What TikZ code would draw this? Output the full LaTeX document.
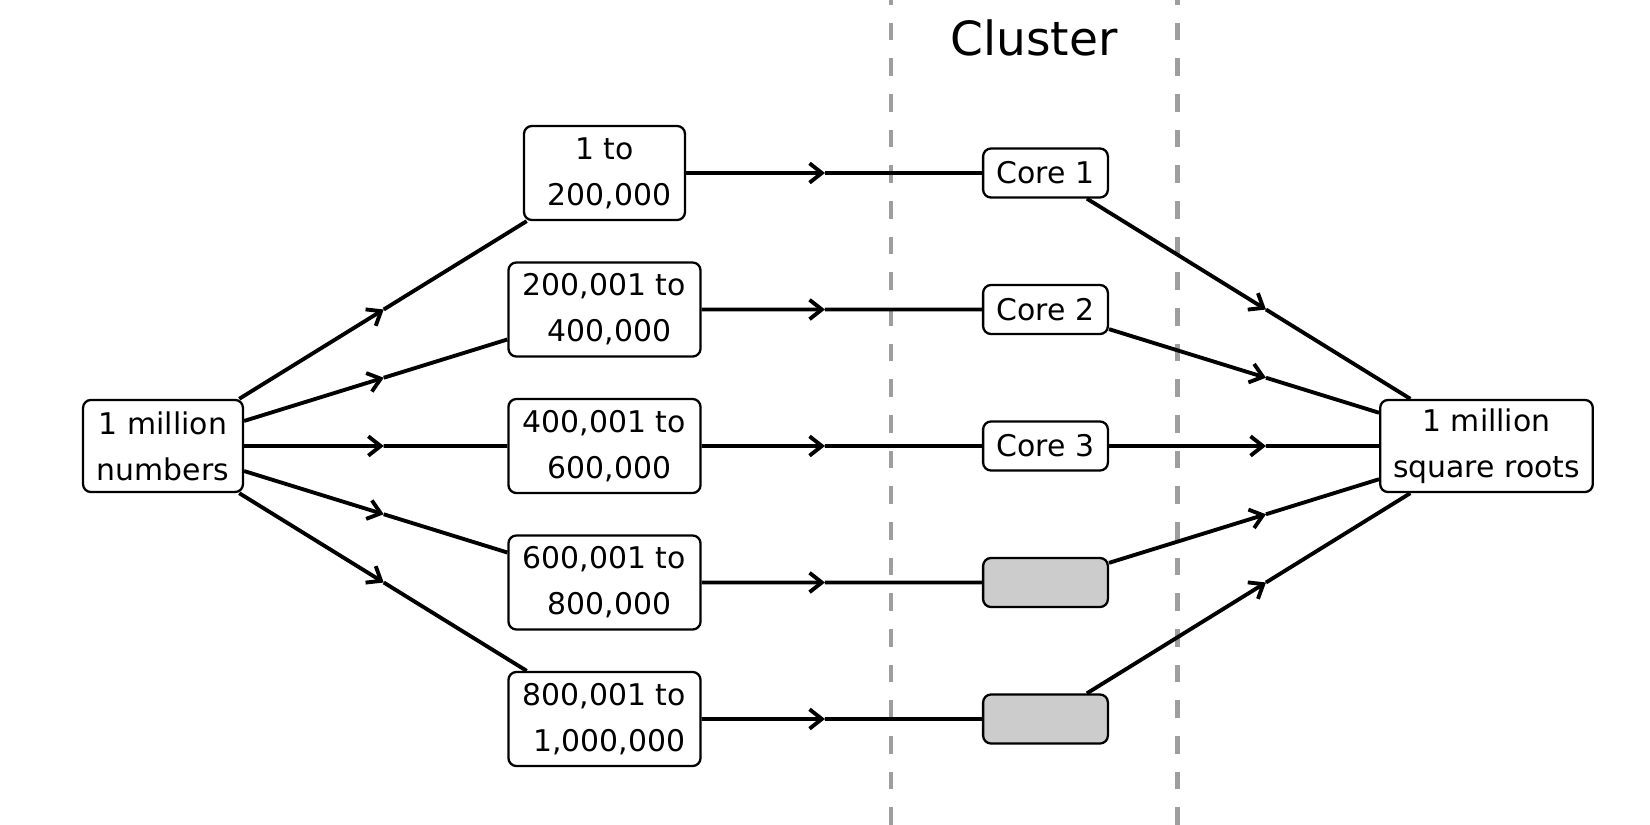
\documentclass[tikz,border=0pt]{standalone}
\usepackage{fontspec}
\setmainfont{DejaVu Sans}
\usetikzlibrary{calc,arrows.meta}
\definecolor{sepgray}{gray}{0.62}
\tikzset{
  box/.style={draw=black, line width=1.3pt, rounded corners=4.5pt, align=center, font=\fontsize{17}{26.3}\selectfont},
  endbox/.style={box, minimum height=52.4pt},
  rangebox/.style={box, minimum width=109.3pt, minimum height=53.5pt},
  corebox/.style={box, minimum width=71pt, minimum height=27.9pt},
  wire/.style={black, line width=2.2pt},
  link/.style={wire, -{Straight Barb[length=7pt,width=11pt]}},
  divider/.style={sepgray, line width=2.3pt, dash pattern=on 10pt off 10.3pt}
}
% arrow head half way between the two node centres
\newcommand{\flowline}[2]{%
  \draw [link] (#1) -- ($(#1)!0.5!(#2)$);
  \draw [wire] ($(#1)!0.5!(#2)$) -- (#2);}

\begin{document}
\begin{tikzpicture}[scale=0.2]
\tikzstyle{every node}+=[inner sep=0pt]
\useasboundingbox (0,0) rectangle (165,-82.5);
% cluster borders
\draw [divider] (89.1,-82.5) -- (89.1,0);
\draw [divider] (117.75,-82.5) -- (117.75,0);
\node (cluster) at (103.4,-3.8) {\fontsize{26.8}{30}\selectfont Cluster};
% input and output
\node [endbox, minimum width=91pt] (numbers) at (16.3,-44.6) {1 million\\numbers};
\node [endbox, minimum width=121pt] (roots) at (148.65,-44.6) {1 million\\square roots};
% chunks
\node [rangebox, minimum width=91.6pt] (r1) at (60.45,-17.3) {1 to\\\hspace*{.32em}200,000};
\node [rangebox] (r2) at (60.45,-30.95) {200,001 to\\\hspace*{.32em}400,000};
\node [rangebox] (r3) at (60.45,-44.6) {400,001 to\\\hspace*{.32em}600,000};
\node [rangebox] (r4) at (60.45,-58.25) {600,001 to\\\hspace*{.32em}800,000};
\node [rangebox] (r5) at (60.45,-71.9) {800,001 to\\\hspace*{.32em}1,000,000};
% cores
\node [corebox] (c1) at (104.55,-17.3) {Core 1};
\node [corebox] (c2) at (104.55,-30.95) {Core 2};
\node [corebox] (c3) at (104.55,-44.6) {Core 3};
\node [corebox, fill=black!20] (c4) at (104.55,-58.25) {};
\node [corebox, fill=black!20] (c5) at (104.55,-71.9) {};
% connections
\flowline{numbers}{r1}
\flowline{numbers}{r2}
\flowline{numbers}{r3}
\flowline{numbers}{r4}
\flowline{numbers}{r5}
\flowline{r1}{c1}
\flowline{r2}{c2}
\flowline{r3}{c3}
\flowline{r4}{c4}
\flowline{r5}{c5}
\flowline{c1}{roots}
\flowline{c2}{roots}
\flowline{c3}{roots}
\flowline{c4}{roots}
\flowline{c5}{roots}
\end{tikzpicture}
\end{document}
